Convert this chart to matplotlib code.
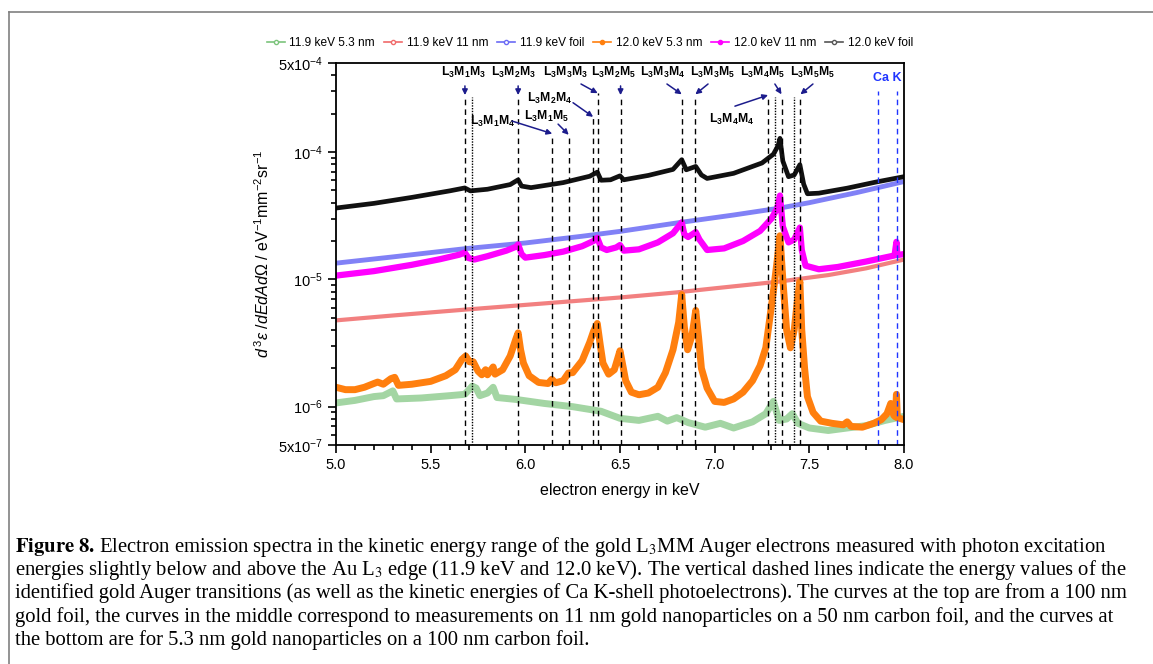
import matplotlib
matplotlib.use('Agg')
import matplotlib.pyplot as plt
from matplotlib.lines import Line2D
from matplotlib.ticker import FixedLocator, FixedFormatter, MultipleLocator, LogLocator, NullFormatter

plt.rcParams['font.family'] = ['Liberation Sans', 'DejaVu Sans']
plt.rcParams['mathtext.fontset'] = 'custom'
plt.rcParams['mathtext.rm'] = 'Liberation Sans'
plt.rcParams['mathtext.it'] = 'Liberation Sans:italic'
plt.rcParams['mathtext.bf'] = 'Liberation Sans:bold'
plt.rcParams['mathtext.sf'] = 'Liberation Sans'

# ---- data ----
e_foil_12 = [5.00, 5.20, 5.40, 5.60, 5.68, 5.71, 5.80, 5.92, 5.962, 5.98, 6.03, 6.20, 6.34, 6.38,
             6.40, 6.45, 6.50, 6.52, 6.65, 6.78, 6.826, 6.85, 6.90, 6.93, 6.96, 7.10, 7.25, 7.31,
             7.335, 7.345, 7.36, 7.39, 7.42, 7.45, 7.47, 7.49, 7.55, 7.70, 7.85, 8.00]
v_foil_12 = [3.63e-5, 3.95e-5, 4.40e-5, 4.95e-5, 5.22e-5, 4.95e-5, 5.10e-5, 5.55e-5, 6.05e-5, 5.40e-5,
             5.25e-5, 5.75e-5, 6.45e-5, 6.95e-5, 6.00e-5, 6.05e-5, 6.50e-5, 6.05e-5, 6.55e-5, 7.30e-5,
             8.70e-5, 7.25e-5, 7.70e-5, 6.60e-5, 6.20e-5, 6.80e-5, 8.20e-5, 9.60e-5, 1.12e-4, 1.28e-4,
             8.50e-5, 6.40e-5, 6.60e-5, 7.95e-5, 5.60e-5, 4.70e-5, 4.75e-5, 5.20e-5, 5.80e-5, 6.40e-5]

e_foil_119 = [5.00, 5.30, 5.68, 6.00, 6.30, 6.50, 6.82, 7.10, 7.34, 7.50, 7.75, 8.00]
v_foil_119 = [1.34e-5, 1.50e-5, 1.74e-5, 1.93e-5, 2.18e-5, 2.38e-5, 2.80e-5, 3.20e-5, 3.62e-5,
              4.00e-5, 4.80e-5, 5.86e-5]

e_11nm_12 = [5.00, 5.20, 5.40, 5.55, 5.65, 5.68, 5.70, 5.73, 5.80, 5.90, 5.95, 5.962, 5.98, 6.00,
             6.10, 6.20, 6.30, 6.36, 6.38, 6.40, 6.43, 6.48, 6.50, 6.52, 6.60, 6.70, 6.78, 6.826,
             6.84, 6.86, 6.90, 6.92, 6.96, 7.05, 7.15, 7.24, 7.30, 7.33, 7.345, 7.36, 7.39, 7.42,
             7.45, 7.46, 7.48, 7.55, 7.65, 7.80, 7.95, 7.96, 7.965, 8.00]
v_11nm_12 = [1.07e-5, 1.16e-5, 1.30e-5, 1.44e-5, 1.56e-5, 1.62e-5, 1.47e-5, 1.43e-5, 1.52e-5, 1.68e-5,
             1.80e-5, 1.88e-5, 1.58e-5, 1.48e-5, 1.55e-5, 1.65e-5, 1.82e-5, 2.00e-5, 2.12e-5, 1.78e-5,
             1.70e-5, 1.78e-5, 1.86e-5, 1.68e-5, 1.72e-5, 1.95e-5, 2.30e-5, 2.80e-5, 2.25e-5, 2.15e-5,
             2.35e-5, 2.05e-5, 1.70e-5, 1.75e-5, 2.00e-5, 2.40e-5, 3.00e-5, 3.60e-5, 4.55e-5, 2.60e-5,
             1.95e-5, 2.05e-5, 2.55e-5, 1.70e-5, 1.28e-5, 1.20e-5, 1.25e-5, 1.38e-5, 1.54e-5, 1.97e-5,
             1.55e-5, 1.58e-5]

e_11nm_119 = [5.00, 5.30, 5.68, 6.00, 6.50, 6.80, 7.00, 7.34, 7.60, 7.80, 8.00]
v_11nm_119 = [4.76e-6, 5.20e-6, 5.78e-6, 6.30e-6, 7.20e-6, 7.90e-6, 8.50e-6, 9.60e-6, 1.08e-5,
              1.22e-5, 1.43e-5]

e_53nm_12 = [5.00, 5.05, 5.10, 5.15, 5.20, 5.22, 5.25, 5.29, 5.31, 5.33, 5.40, 5.50, 5.58, 5.63,
             5.665, 5.685, 5.705, 5.725, 5.75, 5.77, 5.79, 5.80, 5.83, 5.84, 5.88, 5.92, 5.95, 5.962,
             5.975, 5.99, 6.02, 6.07, 6.12, 6.14, 6.16, 6.20, 6.228, 6.25, 6.30, 6.34, 6.36, 6.38,
             6.395, 6.41, 6.44, 6.47, 6.50, 6.51, 6.53, 6.56, 6.60, 6.65, 6.70, 6.74, 6.78, 6.81,
             6.826, 6.84, 6.857, 6.88, 6.90, 6.915, 6.93, 6.96, 7.00, 7.05, 7.10, 7.15, 7.20, 7.24,
             7.27, 7.29, 7.31, 7.33, 7.345, 7.36, 7.38, 7.40, 7.42, 7.44, 7.45, 7.46, 7.475, 7.49,
             7.52, 7.56, 7.62, 7.68, 7.70, 7.72, 7.78, 7.84, 7.88, 7.91, 7.93, 7.945, 7.955, 7.96,
             7.965, 8.00]
v_53nm_12 = [1.42e-6, 1.36e-6, 1.36e-6, 1.42e-6, 1.52e-6, 1.56e-6, 1.50e-6, 1.66e-6, 1.70e-6, 1.47e-6,
             1.50e-6, 1.58e-6, 1.75e-6, 1.95e-6, 2.35e-6, 2.50e-6, 2.25e-6, 2.25e-6, 1.90e-6, 1.78e-6,
             1.95e-6, 1.78e-6, 2.05e-6, 1.80e-6, 1.95e-6, 2.50e-6, 3.40e-6, 3.80e-6, 2.80e-6, 2.20e-6,
             1.75e-6, 1.55e-6, 1.52e-6, 1.64e-6, 1.54e-6, 1.60e-6, 1.84e-6, 1.85e-6, 2.30e-6, 3.20e-6,
             3.90e-6, 4.50e-6, 3.10e-6, 2.20e-6, 1.80e-6, 1.95e-6, 2.75e-6, 2.30e-6, 1.60e-6, 1.30e-6,
             1.24e-6, 1.28e-6, 1.42e-6, 1.85e-6, 2.80e-6, 4.60e-6, 7.60e-6, 4.20e-6, 2.80e-6, 3.60e-6,
             5.70e-6, 3.50e-6, 2.00e-6, 1.40e-6, 1.10e-6, 1.08e-6, 1.15e-6, 1.30e-6, 1.60e-6, 2.10e-6,
             2.90e-6, 4.80e-6, 8.00e-6, 1.40e-5, 2.20e-5, 1.00e-5, 4.00e-6, 2.90e-6, 4.00e-6, 7.50e-6,
             9.60e-6, 4.00e-6, 2.00e-6, 1.20e-6, 9.0e-7, 7.7e-7, 7.4e-7, 7.2e-7, 7.6e-7, 7.0e-7,
             6.9e-7, 7.4e-7, 7.9e-7, 8.8e-7, 1.06e-6, 8.6e-7, 8.3e-7, 1.25e-6, 8.2e-7, 7.9e-7]

e_53nm_119 = [5.00, 5.10, 5.20, 5.25, 5.30, 5.32, 5.45, 5.60, 5.68, 5.72, 5.74, 5.76, 5.80, 5.83,
              5.85, 5.95, 6.10, 6.25, 6.40, 6.50, 6.60, 6.70, 6.75, 6.80, 6.86, 6.95, 7.03, 7.10,
              7.20, 7.27, 7.31, 7.34, 7.38, 7.41, 7.44, 7.50, 7.60, 7.70, 7.80, 7.90, 8.00]
v_53nm_119 = [1.07e-6, 1.12e-6, 1.20e-6, 1.22e-6, 1.33e-6, 1.15e-6, 1.17e-6, 1.22e-6, 1.25e-6, 1.45e-6,
              1.40e-6, 1.22e-6, 1.28e-6, 1.42e-6, 1.18e-6, 1.14e-6, 1.06e-6, 1.00e-6, 9.2e-7, 8.1e-7,
              7.8e-7, 8.4e-7, 7.7e-7, 8.2e-7, 7.5e-7, 6.9e-7, 7.4e-7, 6.8e-7, 7.6e-7, 8.8e-7,
              1.10e-6, 7.8e-7, 8.0e-7, 8.8e-7, 7.4e-7, 6.8e-7, 6.5e-7, 6.8e-7, 7.1e-7, 7.8e-7, 8.4e-7]

# transition energies (keV)
auger_dashed = [5.681, 5.962, 6.142, 6.229, 6.358, 6.382, 6.503, 6.826, 6.898, 7.282, 7.353, 7.453]
auger_dotted = [5.717, 7.319, 7.418]
ca_k = [7.865, 7.963]

ytick_vals = [5e-7, 1e-6, 1e-5, 1e-4, 5e-4]
ytick_labels = [r'5x10$^{-7}$', r'10$^{-6}$', r'10$^{-5}$', r'10$^{-4}$', r'5x10$^{-4}$']

# ---- figure ----
fig = plt.figure(figsize=(11.53, 6.64), dpi=100)
ax = fig.add_axes([336 / 1153, 1 - 445 / 664, 568 / 1153, 382 / 664])

ax.plot(e_53nm_119, v_53nm_119, color='#7cc47c', lw=5, alpha=0.7, solid_joinstyle='round')
ax.plot(e_11nm_119, v_11nm_119, color='#f06a6a', lw=3, alpha=0.85)
ax.plot(e_foil_119, v_foil_119, color='#6b6bf5', lw=3.5, alpha=0.85)
ax.plot(e_53nm_12, v_53nm_12, color='#ff7f0e', lw=5, solid_joinstyle='round')
ax.plot(e_11nm_12, v_11nm_12, color='#ff00ff', lw=4.5, solid_joinstyle='round')
ax.plot(e_foil_12, v_foil_12, color='#111111', lw=3.4, solid_joinstyle='round')

# reference lines
tr = ax.get_xaxis_transform()
tops = {6.142: 0.812, 6.229: 0.809, 6.358: 0.856, 6.382: 0.921}
for x in auger_dashed:
    ax.axvline(x, ymin=0, ymax=tops.get(x, 0.914), color='black', lw=1, dashes=(4, 3))
for x in auger_dotted:
    ax.axvline(x, ymin=0, ymax=0.911, color='black', lw=1, dashes=(1, 1))
for x in ca_k:
    ax.axvline(x, ymin=0, ymax=0.927, color='#2035ff', lw=1, dashes=(4, 3))

# labels with arrows: (text, label pos, arrow tail, arrow head)
labels = [
    (r'$\mathbf{L_3M_1M_3}$', (5.671, 0.976), (5.681, 0.940), (5.681, 0.916)),
    (r'$\mathbf{L_3M_2M_3}$', (5.935, 0.976), (5.962, 0.940), (5.962, 0.916)),
    (r'$\mathbf{L_3M_3M_3}$', (6.210, 0.976), (6.294, 0.945), (6.382, 0.921)),
    (r'$\mathbf{L_3M_2M_5}$', (6.463, 0.976), (6.503, 0.940), (6.503, 0.916)),
    (r'$\mathbf{L_3M_3M_4}$', (6.727, 0.976), (6.748, 0.945), (6.826, 0.918)),
    (r'$\mathbf{L_3M_3M_5}$', (6.991, 0.976), (6.965, 0.945), (6.898, 0.918)),
    (r'$\mathbf{L_3M_4M_5}$', (7.250, 0.976), (7.318, 0.945), (7.353, 0.918)),
    (r'$\mathbf{L_3M_5M_5}$', (7.519, 0.976), (7.519, 0.945), (7.453, 0.918)),
    (r'$\mathbf{L_3M_2M_4}$', (6.130, 0.908), (6.252, 0.896), (6.358, 0.859)),
    (r'$\mathbf{L_3M_1M_4}$', (5.829, 0.846), (5.930, 0.848), (6.142, 0.815)),
    (r'$\mathbf{L_3M_1M_5}$', (6.114, 0.861), (6.173, 0.840), (6.229, 0.812)),
    (r'$\mathbf{L_3M_4M_4}$', (7.092, 0.853), (7.107, 0.887), (7.282, 0.916)),
]
arrow_col = '#1c1c8c'
for txt, lp, tail, head in labels:
    ax.text(lp[0], lp[1], txt, transform=tr, ha='center', va='center', fontsize=8.8)
    ax.annotate('', xy=head, xycoords=tr, xytext=tail, textcoords=tr,
                arrowprops=dict(arrowstyle='-|>', color=arrow_col, lw=1.1, mutation_scale=8,
                                shrinkA=0, shrinkB=0))
ax.text(7.912, 0.962, 'Ca K', transform=tr, ha='center', va='center', fontsize=9,
        fontweight='bold', color='#2035ff')

# axes
ax.set_xlim(5.0, 8.0)
ax.set_yscale('log')
ax.set_ylim(5e-7, 5e-4)
ax.xaxis.set_major_locator(MultipleLocator(0.5))
ax.xaxis.set_minor_locator(MultipleLocator(0.1))
ax.xaxis.set_major_formatter(plt.FormatStrFormatter('%.1f'))
ax.yaxis.set_major_locator(FixedLocator(ytick_vals))
ax.yaxis.set_major_formatter(FixedFormatter(ytick_labels))
ax.yaxis.set_minor_locator(LogLocator(base=10, subs=range(2, 10), numticks=20))
ax.yaxis.set_minor_formatter(NullFormatter())
ax.tick_params(which='both', direction='out', top=False, right=False, labelsize=10.5, width=1.2)
ax.tick_params(which='major', length=6)
ax.tick_params(which='minor', length=3.5)
for s in ax.spines.values():
    s.set_linewidth(1.3)

ax.set_xlabel('electron energy in keV', fontsize=11.5, labelpad=8)
ax.set_ylabel(r'$d^{\,3}\varepsilon\ /dEdAd\mathit{\Omega}$ / eV$^{-1}$mm$^{-2}$sr$^{-1}$', fontsize=11.5,
              labelpad=4)

# legend
handles = [
    Line2D([], [], color='#7cc47c', lw=1.2, marker='o', ms=3, mfc='white'),
    Line2D([], [], color='#f06a6a', lw=1.2, marker='o', ms=3, mfc='white'),
    Line2D([], [], color='#6b6bf5', lw=1.2, marker='o', ms=3, mfc='white'),
    Line2D([], [], color='#ff7f0e', lw=1.2, marker='o', ms=3),
    Line2D([], [], color='#ff00ff', lw=1.2, marker='o', ms=3),
    Line2D([], [], color='#555555', lw=1.2, marker='o', ms=3, mfc='white'),
]
names = ['11.9 keV 5.3 nm', '11.9 keV 11 nm', '11.9 keV foil',
         '12.0 keV 5.3 nm', '12.0 keV 11 nm', '12.0 keV foil']
fig.legend(handles, names, loc='center', bbox_to_anchor=(590 / 1153, 1 - 43 / 664), ncol=6,
           frameon=False, fontsize=8.6, handlelength=1.5, handletextpad=0.4, columnspacing=0.75)

# frame around figure
fig.add_artist(Line2D([9 / 1153, 1.0], [1 - 12 / 664, 1 - 12 / 664], color='#808080', lw=1.2))
fig.add_artist(Line2D([9 / 1153, 9 / 1153], [0, 1 - 12 / 664], color='#808080', lw=1.2))

# caption
caption = [
    r'$\mathbf{Figure\ 8.}\,$Electron emission spectra in the kinetic energy range of the gold L$_3$MM Auger electrons measured with photon excitation',
    r'energies slightly below and above the Au L$_3$ edge (11.9 keV and 12.0 keV). The vertical dashed lines indicate the energy values of the',
    'identified gold Auger transitions (as well as the kinetic energies of Ca K-shell photoelectrons). The curves at the top are from a 100 nm',
    'gold foil, the curves in the middle correspond to measurements on 11 nm gold nanoparticles on a 50 nm carbon foil, and the curves at',
    'the bottom are for 5.3 nm gold nanoparticles on a 100 nm carbon foil.',
]
for i, line in enumerate(caption):
    y = 552 + i * 23.2
    fig.text(15 / 1153, 1 - y / 664, line, ha='left', va='baseline', fontsize=14.85,
             family='Liberation Serif', math_fontfamily='stix')

fig.savefig('out.png', dpi=100)
